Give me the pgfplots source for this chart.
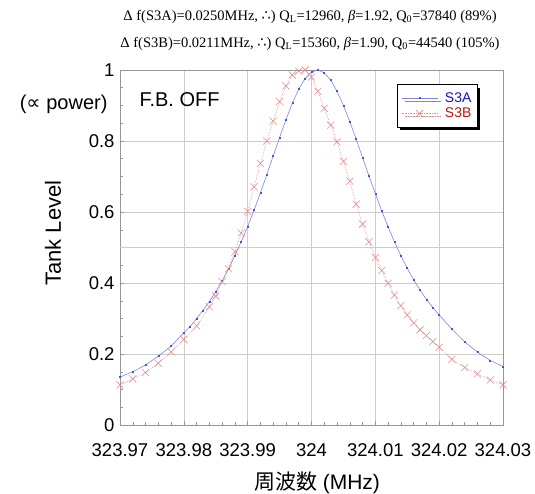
\documentclass[border=0pt]{standalone}
\usepackage{fontspec}
\setmainfont{Liberation Sans}
\newfontfamily\serifl{Liberation Serif}
\newfontfamily\dejavu{DejaVu Sans}
\newfontfamily\cjk{Noto Sans CJK JP}
\usepackage{pgfplots}
\pgfplotsset{compat=1.18}
\usetikzlibrary{shadows}
\definecolor{cBlueLine}{RGB}{130,130,230}
\definecolor{cBlueMark}{RGB}{80,80,210}
\definecolor{cRed}{RGB}{225,140,140}
\definecolor{cBlueText}{RGB}{20,20,200}
\definecolor{cRedText}{RGB}{190,20,20}
\definecolor{cGrid}{RGB}{205,205,205}
\definecolor{cAxis}{RGB}{150,150,150}

\begin{document}
\begin{tikzpicture}[x=1pt,y=1pt]
\path[use as bounding box] (0,0) rectangle (535,493);
% x data: offset from 324 MHz in kHz
\begin{axis}[
  at={(120pt,68pt)}, anchor=south west,
  scale only axis, width=383pt, height=355pt,
  xmin=-30, xmax=30, ymin=0, ymax=1,
  xtick={-30,-20,-10,0,10,20,30},
  xticklabels={323.97,323.98,323.99,324,324.01,324.02,324.03},
  ytick={0,0.2,0.4,0.6,0.8,1},
  yticklabels={0,0.2,0.4,0.6,0.8,1},
  minor x tick num=4, minor y tick num=3,
  tick pos=left, tick align=inside,
  major tick length=4pt, minor tick length=3pt,
  grid=major, major grid style={cGrid, line width=0.6pt},
  axis line style={cAxis, line width=0.6pt},
  tick style={cAxis, line width=0.5pt},
  ticklabel style={font=\fontsize{18.5}{22}\selectfont},
  xticklabel style={yshift=-15pt},
  yticklabel style={xshift=-2pt},
  /pgf/number format/assume math mode=true,
  extra y ticks={0.5}, extra y tick labels={},
  extra y tick style={grid=major, major tick length=0pt},
  clip=false,
  legend style={at={(0.723,0.96)}, anchor=north west, draw=black, line width=0.8pt,
    fill=white, font=\fontsize{14}{16}\selectfont,
    drop shadow={shadow xshift=3pt, shadow yshift=-3pt, fill=black, opacity=1},
    inner xsep=4pt, inner ysep=6pt, row sep=0pt},
  legend cell align=left,
  legend image code/.code={%
    \draw[mark repeat=2,mark phase=2,#1] plot coordinates {(0pt,0pt) (18pt,0pt) (36pt,0pt)};
    \path (41pt,0pt);},
]
\addplot[cBlueLine, line width=0.6pt, mark=square*, mark size=0.5pt, mark options={cBlueMark}]
  coordinates {
  (-30,0.135) (-28,0.150) (-26,0.169) (-24,0.194) (-22,0.222) (-20,0.260)
  (-19,0.278) (-18,0.300) (-17,0.323) (-16,0.348) (-15,0.376) (-14,0.406)
  (-13,0.440) (-12,0.477) (-11,0.517) (-10,0.559) (-9,0.605) (-8,0.654)
  (-7,0.705) (-6,0.758) (-5,0.810) (-4,0.860) (-3,0.907) (-2,0.946)
  (-1,0.976) (0,0.994) (1,1.000) (2,0.992) (3,0.972) (4,0.940)
  (5,0.900) (6,0.855) (7,0.805) (8,0.753) (9,0.702) (10,0.652)
  (11,0.603) (12,0.558) (13,0.516) (14,0.477) (15,0.442) (16,0.409)
  (17,0.380) (18,0.354) (19,0.331) (20,0.310) (22,0.270) (24,0.234)
  (26,0.205) (28,0.182) (30,0.164)
  };
\addplot[cRed, line width=0.6pt, densely dotted, mark=x, mark size=5pt, mark options={solid, cRed, line width=0.55pt}]
  coordinates {
  (-30,0.113) (-28,0.130) (-26,0.148) (-24,0.174) (-22,0.206) (-20,0.241)
  (-18,0.279) (-16,0.333) (-15,0.363) (-14,0.404) (-13,0.440) (-12,0.488)
  (-11,0.541) (-10,0.601) (-9,0.671) (-8,0.737) (-7,0.800) (-6,0.856)
  (-5,0.911) (-4,0.955) (-3,0.986) (-2,0.997) (-1,1.000) (0,0.980)
  (1,0.940) (2,0.892) (3,0.845) (4,0.798) (5,0.743) (6,0.687)
  (7,0.622) (8,0.566) (9,0.516) (10,0.472) (11,0.435) (12,0.399)
  (13,0.366) (14,0.336) (15,0.310) (16,0.288) (17,0.268) (18,0.252)
  (19,0.235) (20,0.219) (22,0.185) (24,0.162) (26,0.144) (28,0.127)
  (30,0.113)
  };
\legend{\textcolor{cBlueText}{S3A}, \textcolor{cRedText}{S3B}}
\end{axis}
\node[font=\fontsize{20}{24}\selectfont, anchor=west] at (136,393) {F.B. OFF};
\node[font=\fontsize{20}{24}\selectfont, anchor=east] at (111,389) {({\dejavu ∝} power)};
\node[font=\fontsize{22}{26}\selectfont, rotate=90] at (53,260) {Tank Level};
\node[font=\fontsize{21}{25}\selectfont] at (317,10) {{\cjk 周波数} (MHz)};
\node[font=\serifl\fontsize{14.5}{17}\selectfont] at (310,476)
  {Δ f(S3A)=0.0250MHz, {\dejavu ∴}) Q\textsubscript{L}=12960, \textit{β}=1.92, Q\textsubscript{0}=37840 (89\%)};
\node[font=\serifl\fontsize{14.5}{17}\selectfont] at (310,449)
  {Δ f(S3B)=0.0211MHz, {\dejavu ∴}) Q\textsubscript{L}=15360, \textit{β}=1.90, Q\textsubscript{0}=44540 (105\%)};
\end{tikzpicture}
\end{document}
